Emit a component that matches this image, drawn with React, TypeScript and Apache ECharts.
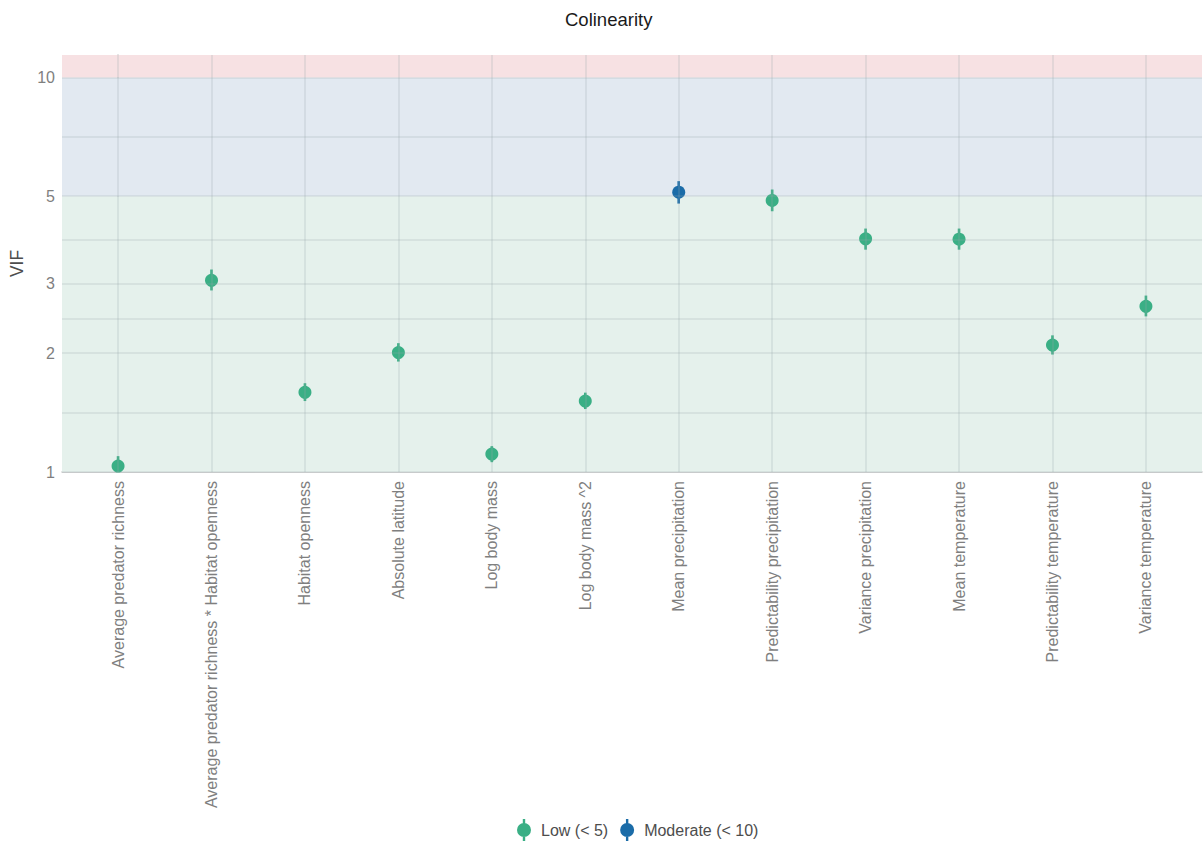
import React, { useEffect, useRef } from "react";
import * as echarts from "echarts";

// Predictors and their variance inflation factors with confidence intervals
const categories = [
  "Average predator richness",
  "Average predator richness * Habitat openness",
  "Habitat openness",
  "Absolute latitude",
  "Log body mass",
  "Log body mass ^2",
  "Mean precipitation",
  "Predictability precipitation",
  "Variance precipitation",
  "Mean temperature",
  "Predictability temperature",
  "Variance temperature",
];
const vifValues = [1.035, 3.06, 1.592, 2.008, 1.11, 1.513, 5.12, 4.88, 3.9, 3.89, 2.097, 2.63];
const ciLower = [1.0, 2.885, 1.513, 1.905, 1.059, 1.444, 4.79, 4.58, 3.66, 3.66, 1.985, 2.48];
const ciUpper = [1.097, 3.26, 1.679, 2.121, 1.163, 1.589, 5.46, 5.2, 4.14, 4.14, 2.22, 2.8];

const yTickLabels = [1, 2, 3, 5, 10];
const yGridValues = [1, 1.414, 2, 2.449, 3, 3.873, 5, 7.071, 10];
const yMin = 1;
const yMax = 11.4;

const lowColor = "#3aaf85";
const moderateColor = "#1b6ca8";
const FONT = "'Liberation Sans', Arial, Helvetica, sans-serif";
const gridLineColor = "rgba(150,165,170,0.26)";

const legendIcon =
  "path://M5.8,0H8.2V22H5.8Z M0,11A7,7 0 1 1 14,11A7,7 0 1 1 0,11Z";

function groupData(isModerate: boolean) {
  const pts: number[][] = [];
  const bars: number[][] = [];
  vifValues.forEach((v, i) => {
    if ((v >= 5) === isModerate) {
      pts.push([i, v]);
      bars.push([i, ciLower[i], ciUpper[i]]);
    }
  });
  return { pts, bars };
}

function errorBarSeries(name: string, color: string, data: number[][]) {
  return {
    name,
    type: "custom",
    data,
    encode: { x: 0, y: [1, 2] },
    z: 3,
    itemStyle: { color },
    renderItem: (_params: any, api: any) => {
      const x = api.value(0);
      const lo = api.coord([x, api.value(1)]);
      const hi = api.coord([x, api.value(2)]);
      return {
        type: "line",
        shape: { x1: lo[0], y1: lo[1], x2: hi[0], y2: hi[1] },
        style: { stroke: color, lineWidth: 2.6 },
      };
    },
  };
}

export default function App() {
  const ref = useRef<HTMLDivElement>(null);

  useEffect(() => {
    if (!ref.current) return;
    const chart = echarts.init(ref.current, undefined, { renderer: "svg" });
    const low = groupData(false);
    const moderate = groupData(true);
    const idx = categories.map((_, i) => i);

    chart.setOption({
      animation: false,
      backgroundColor: "#ffffff",
      textStyle: { fontFamily: FONT },
      title: {
        text: "Colinearity",
        left: 560,
        top: 5,
        textStyle: { fontFamily: FONT, fontSize: 18.5, fontWeight: "normal", color: "#1a1a1a" },
      },
      legend: {
        bottom: 1,
        left: 512,
        itemWidth: 14,
        itemHeight: 22,
        itemGap: 12,
        data: [
          { name: "Low (< 5)", icon: legendIcon },
          { name: "Moderate (< 10)", icon: legendIcon },
        ],
        textStyle: { fontFamily: FONT, fontSize: 16, color: "#4d4d4d", padding: [0, 0, 0, 5] },
      },
      grid: { left: 62, right: 1, top: 55, bottom: 375 },
      xAxis: {
        type: "value",
        min: -0.6,
        max: categories.length - 0.4,
        axisLine: { show: true, lineStyle: { color: "#c4c4c4", width: 1.5 } },
        axisTick: { show: false },
        splitLine: { show: false },
        axisLabel: {
          customValues: idx,
          rotate: 90,
          margin: 9,
          fontSize: 16,
          color: "#7f7f7f",
          fontFamily: FONT,
          formatter: (v: number) => categories[Math.round(v)] ?? "",
        },
      },
      yAxis: {
        type: "log",
        logBase: 10,
        min: yMin,
        max: yMax,
        name: "VIF",
        nameLocation: "middle",
        nameGap: 33,
        nameTextStyle: { fontFamily: FONT, fontSize: 17.5, color: "#4d4d4d" },
        axisLine: { show: true, lineStyle: { color: "#c4c4c4", width: 1.5 } },
        axisTick: { show: false },
        splitLine: { show: false },
        axisLabel: {
          customValues: yTickLabels,
          margin: 7,
          fontSize: 16,
          color: "#7f7f7f",
          fontFamily: FONT,
        },
      },
      series: [
        {
          name: "bands",
          type: "line",
          data: [],
          z: -1,
          silent: true,
          markArea: {
            silent: true,
            data: [
              [{ yAxis: 1, itemStyle: { color: "#e5f1ec" } }, { yAxis: 5 }],
              [{ yAxis: 5, itemStyle: { color: "#e2e9f1" } }, { yAxis: 10 }],
              [{ yAxis: 10, itemStyle: { color: "#f7e1e3" } }, { yAxis: yMax }],
            ],
          },
        },
        {
          name: "gridlines",
          type: "line",
          data: [],
          z: 0,
          silent: true,
          markLine: {
            silent: true,
            symbol: ["none", "none"],
            label: { show: false },
            lineStyle: { color: gridLineColor, width: 1.6, type: "solid" },
            data: [
              ...yGridValues.map((v) => ({ yAxis: v })),
              ...idx.map((i) => ({ xAxis: i })),
            ],
          },
        },
        errorBarSeries("Low (< 5)", lowColor, low.bars),
        errorBarSeries("Moderate (< 10)", moderateColor, moderate.bars),
        {
          name: "Low (< 5)",
          type: "scatter",
          data: low.pts,
          symbolSize: 13,
          z: 4,
          itemStyle: { color: lowColor, opacity: 1 },
        },
        {
          name: "Moderate (< 10)",
          type: "scatter",
          data: moderate.pts,
          symbolSize: 13,
          z: 4,
          itemStyle: { color: moderateColor, opacity: 1 },
        },
      ],
    });

    return () => chart.dispose();
  }, []);

  return (
    <div
      ref={ref}
      style={{ position: "fixed", left: 0, top: 0, width: 1203, height: 847 }}
    />
  );
}
